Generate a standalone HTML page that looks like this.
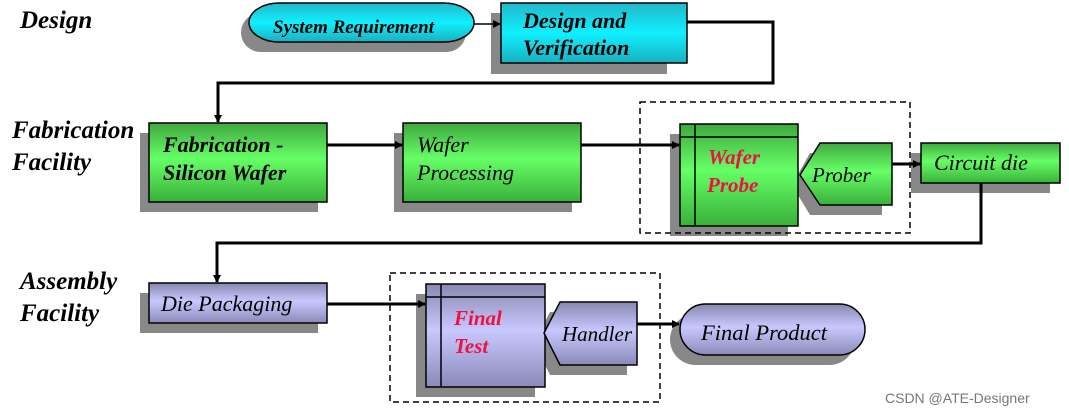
<!DOCTYPE html>
<html><head><meta charset="utf-8"><style>
html,body{margin:0;padding:0;background:#fff;}
svg{display:block;font-family:"Liberation Serif",serif;}
</style></head><body>
<svg width="1069" height="415" viewBox="0 0 1069 415" xmlns="http://www.w3.org/2000/svg">
<defs>
<linearGradient id="cy" x1="0" y1="0" x2="0" y2="1"><stop offset="0" stop-color="#22b8c8"/><stop offset="0.5" stop-color="#10f0ff"/><stop offset="1" stop-color="#18b0c0"/></linearGradient>
<linearGradient id="gr" x1="0" y1="0" x2="0" y2="1"><stop offset="0" stop-color="#3fa83f"/><stop offset="0.45" stop-color="#66ff66"/><stop offset="1" stop-color="#3ab03a"/></linearGradient>
<linearGradient id="pu" x1="0" y1="0" x2="0" y2="1"><stop offset="0" stop-color="#8888b0"/><stop offset="0.45" stop-color="#c8c8ff"/><stop offset="1" stop-color="#8a8ab8"/></linearGradient>
<marker id="ar" markerWidth="8" markerHeight="8" refX="7" refY="4" orient="auto" markerUnits="userSpaceOnUse"><path d="M0,0 L8,4 L0,8z" fill="#000"/></marker>
</defs>
<g font-style="italic" font-weight="bold" font-size="25" fill="#000">
<text x="20" y="28">Design</text>
<text x="12" y="138">Fabrication</text>
<text x="12" y="170">Facility</text>
<text x="20" y="289">Assembly</text>
<text x="20" y="321">Facility</text>
</g>
<g fill="#888">
<rect x="241" y="13" width="225" height="39" rx="19.5"/>
<rect x="491" y="13" width="176" height="61"/>
<rect x="140" y="133" width="178" height="79"/>
<rect x="394" y="133" width="178" height="79"/>
<rect x="670" y="134" width="118" height="102"/>
<path d="M792,185 L810,153 L882,153 L882,215 L810,215z"/>
<rect x="911" y="153" width="139" height="40"/>
<rect x="140" y="293" width="178" height="40"/>
<rect x="416" y="294" width="119" height="103"/>
<path d="M534,343 L550,312 L627,312 L627,375 L550,375z"/>
<rect x="670" y="314" width="185" height="51" rx="25.5"/>
</g>
<g stroke="#000" fill="none">
<line x1="474" y1="24" x2="500" y2="24" stroke-width="1.5" marker-end="url(#ar)"/>
<polyline points="687,22 773,22 773,83 218,83 218,122" stroke-width="3" marker-end="url(#ar)"/>
<line x1="327" y1="145" x2="402" y2="145" stroke-width="3" marker-end="url(#ar)"/>
<line x1="581" y1="145" x2="679" y2="145" stroke-width="3" marker-end="url(#ar)"/>
<line x1="888" y1="164" x2="920" y2="164" stroke-width="3" marker-end="url(#ar)"/>
<polyline points="981,183 981,243 217,243 217,282" stroke-width="3" marker-end="url(#ar)"/>
<line x1="327" y1="304" x2="425" y2="304" stroke-width="3" marker-end="url(#ar)"/>
<line x1="637" y1="324" x2="679" y2="324" stroke-width="3" marker-end="url(#ar)"/>
<rect x="640" y="102" width="270" height="131" stroke-width="1.5" stroke-dasharray="6,4"/>
<rect x="390" y="273" width="270" height="129" stroke-width="1.5" stroke-dasharray="6,4"/>
</g>
<g stroke="#000" stroke-width="1.5">
<rect x="249" y="3" width="225" height="39" rx="30" ry="19.5" fill="url(#cy)"/>
<rect x="501" y="3" width="186" height="60" fill="url(#cy)"/>
<rect x="149" y="123" width="178" height="79" fill="url(#gr)"/>
<rect x="403" y="123" width="178" height="79" fill="url(#gr)"/>
<rect x="680" y="124" width="118" height="102" fill="url(#gr)"/>
<line x1="695" y1="124" x2="695" y2="226"/><line x1="680" y1="137" x2="798" y2="137"/>
<path d="M800,175 L820,143 L892,143 L892,205 L820,205z" fill="url(#gr)"/>
<rect x="921" y="143" width="139" height="40" fill="url(#gr)"/>
<rect x="149" y="283" width="178" height="40" fill="url(#pu)"/>
<rect x="426" y="284" width="119" height="103" fill="url(#pu)"/>
<line x1="441" y1="284" x2="441" y2="387"/><line x1="426" y1="297" x2="545" y2="297"/>
<path d="M544,333 L560,302 L637,302 L637,365 L560,365z" fill="url(#pu)"/>
<rect x="680" y="304" width="185" height="51" rx="25.5" fill="url(#pu)"/>
</g>
<g font-style="italic" fill="#000">
<text x="273" y="33" font-size="19" font-weight="bold">System Requirement</text>
<text x="523" y="28" font-size="22" font-weight="bold">Design and</text>
<text x="523" y="55" font-size="22" font-weight="bold">Verification</text>
<text x="163" y="152" font-size="22" font-weight="bold">Fabrication  -</text>
<text x="163" y="180" font-size="22" font-weight="bold">Silicon Wafer</text>
<text x="417" y="152" font-size="22">Wafer</text>
<text x="417" y="180" font-size="22">Processing</text>
<text x="708" y="164" font-size="21" font-weight="bold" fill="#ee1144">Wafer</text>
<text x="707" y="192" font-size="21" font-weight="bold" fill="#ee1144">Probe</text>
<text x="812" y="182" font-size="21">Prober</text>
<text x="934" y="170" font-size="22">Circuit die</text>
<text x="161" y="311" font-size="22">Die Packaging</text>
<text x="454" y="325" font-size="21" font-weight="bold" fill="#ee1144">Final</text>
<text x="454" y="353" font-size="21" font-weight="bold" fill="#ee1144">Test</text>
<text x="562" y="341" font-size="21">Handler</text>
<text x="701" y="340" font-size="22.5">Final Product</text>
</g>
<text x="885" y="403" font-family="Liberation Sans, sans-serif" font-size="14" fill="#777">CSDN @ATE-Designer</text>
</svg>
</body></html>
